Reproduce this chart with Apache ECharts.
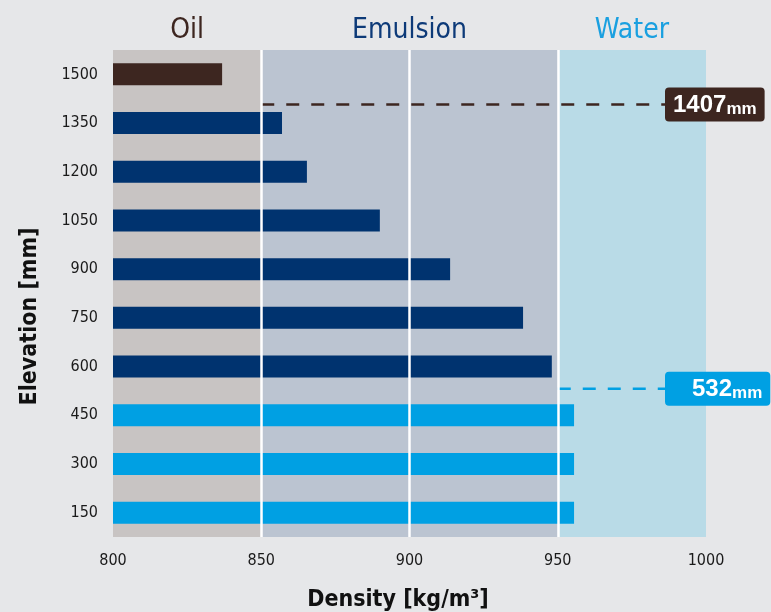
<!DOCTYPE html>
<html>
<head>
<meta charset="utf-8">
<script src="https://cdn.jsdelivr.net/npm/echarts@6/dist/echarts.min.js"></script>
<style>
  html, body { margin: 0; padding: 0; background: #e6e7e9; }
  #container { width: 771px; height: 612px; }
</style>
</head>
<body>
<div id="container"></div>
<script>
var dom = document.getElementById('container');
var myChart = echarts.init(dom);

// elevation categories, bottom to top
var elevations = ['150', '300', '450', '600', '750', '900', '1050', '1200', '1350', '1500'];
var densities = [955.5, 955.5, 955.5, 948, 938.3, 913.7, 890, 865.4, 857, 836.8];
var phases = ['Water', 'Water', 'Water', 'Emulsion', 'Emulsion', 'Emulsion', 'Emulsion', 'Emulsion', 'Emulsion', 'Oil'];

// density zones
var zoneNames = ['Oil', 'Emulsion', 'Water'];
var zoneBounds = [800, 850, 950, 1000];
var gridLines = [850, 900, 950];

// interface levels [mm]
var interfaceLevels = [1407, 532];
var interfaceFrom = [850, 950];

var narrow = '"Liberation Sans Narrow", "DejaVu Sans Condensed", "Liberation Sans", sans-serif';
var phaseColor = { Oil: '#3d2620', Emulsion: '#00336f', Water: '#00a0e3' };
var zoneFill = { Oil: '#c8c4c3', Emulsion: '#bbc4d1', Water: '#b9dbe7' };
var zoneText = { Oil: '#3d2620', Emulsion: '#0d3a78', Water: '#1aa0e0' };

var areas = zoneNames.map(function (z, i) {
  return [
    {
      name: z,
      xAxis: zoneBounds[i],
      itemStyle: { color: zoneFill[z] },
      label: { color: zoneText[z] }
    },
    { xAxis: zoneBounds[i + 1] }
  ];
});

var interfaceSeries = interfaceLevels.map(function (lvl, i) {
  var c = i === 0 ? phaseColor.Oil : phaseColor.Water;
  return {
    type: 'line',
    yAxisIndex: 1,
    symbol: 'none',
    silent: true,
    z: 4,
    data: [[interfaceFrom[i], lvl], [1000, lvl]],
    lineStyle: { color: c, width: 2.5, type: [13, 12] },
    endLabel: {
      show: true,
      distance: 0,
      offset: [-41, 0],
      backgroundColor: c,
      borderRadius: 4,
      padding: i === 0 ? [4, 8, 4, 8] : [4, 8, 4, 27],
      formatter: '{v|' + lvl + '}{u|mm}',
      rich: {
        v: { fontSize: 24, fontWeight: 'bold', color: '#fff', fontFamily: 'Liberation Sans', lineHeight: 26, verticalAlign: 'bottom' },
        u: { fontSize: 17, fontWeight: 'bold', color: '#fff', fontFamily: 'Liberation Sans', lineHeight: 22, verticalAlign: 'bottom' }
      }
    }
  };
});

var option = {
  backgroundColor: '#e6e7e9',
  animation: false,
  grid: { left: 113, right: 65, top: 50, bottom: 75, outerBoundsMode: 'none', containLabel: false },
  xAxis: {
    type: 'value',
    min: 800,
    max: 1000,
    interval: 50,
    name: 'Density [kg/m³]',
    nameLocation: 'middle',
    nameGap: 52,
    nameTextStyle: { fontFamily: narrow, fontWeight: 'bold', fontSize: 23, color: '#111', padding: [0, 23, 0, 0] },
    axisLine: { show: false },
    axisTick: { show: false },
    splitLine: { show: false },
    axisLabel: {
      fontFamily: narrow, fontSize: 16, color: '#1a1a1a', margin: 16,
      formatter: function (v) { return String(v); }
    }
  },
  yAxis: [
    {
      type: 'category',
      data: elevations,
      name: 'Elevation [mm]',
      nameLocation: 'middle',
      nameGap: 71,
      nameTextStyle: { fontFamily: narrow, fontWeight: 'bold', fontSize: 23, color: '#111', padding: [0, 46, 0, 0] },
      axisLine: { show: false },
      axisTick: { show: false },
      axisLabel: { fontFamily: narrow, fontSize: 16, color: '#1a1a1a', margin: 15 }
    },
    { type: 'value', min: 75, max: 1575, show: false }
  ],
  series: [
    {
      type: 'line',
      data: [],
      silent: true,
      z: 0,
      markArea: {
        silent: true,
        label: { show: true, position: 'top', distance: 5, fontFamily: narrow, fontSize: 28 },
        data: areas
      }
    },
    {
      type: 'line',
      data: [],
      silent: true,
      z: 1,
      markLine: {
        silent: true,
        symbol: 'none',
        label: { show: false },
        lineStyle: { color: '#ffffff', width: 2.5, type: 'solid' },
        data: gridLines.map(function (v) { return { xAxis: v }; })
      }
    },
    {
      type: 'bar',
      z: 3,
      barWidth: 22,
      data: densities.map(function (d, i) {
        return { value: d, itemStyle: { color: phaseColor[phases[i]] } };
      })
    }
  ].concat(interfaceSeries)
};

if (option && typeof option === 'object') {
  myChart.setOption(option);
}
</script>
</body>
</html>
